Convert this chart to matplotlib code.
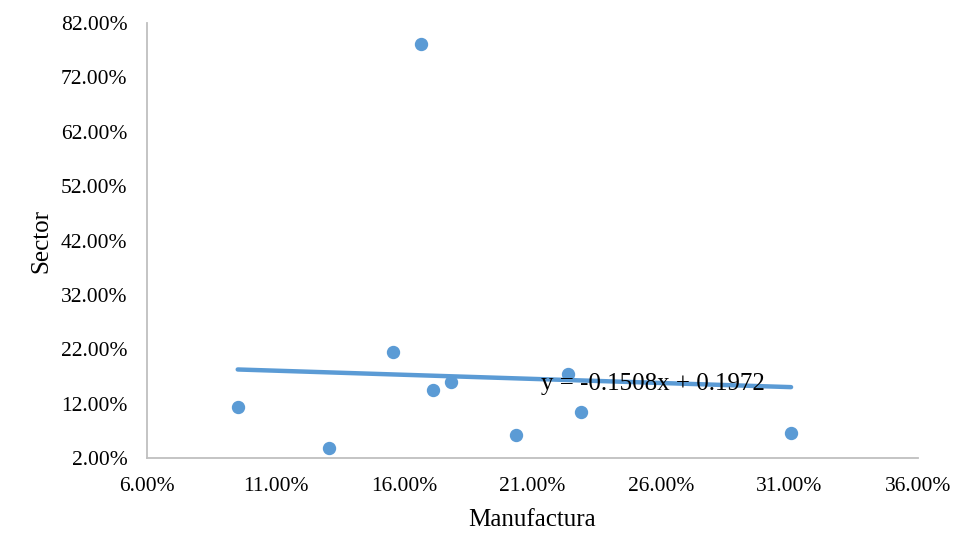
import numpy as np
import matplotlib.pyplot as plt
from matplotlib.ticker import FuncFormatter

# data (fractions)
manufactura = [0.0953, 0.1307, 0.1556, 0.1666, 0.1713, 0.1783, 0.2036, 0.2238, 0.2289, 0.3106]
sector = [0.1143, 0.0389, 0.2149, 0.7810, 0.1450, 0.1592, 0.0623, 0.1739, 0.1051, 0.0665]
slope = -0.1508
intercept = 0.1972

plt.rcParams['font.family'] = ['Liberation Serif', 'DejaVu Serif']

fig = plt.figure(figsize=(9.76, 5.57), dpi=100)
ax = fig.add_axes([0.1506, 0.1777, 0.79, 0.781])

blue = '#5B9BD5'
ax.plot(manufactura, sector, 'o', color=blue, markersize=8.6, zorder=3)

xt = np.array([min(manufactura), max(manufactura)])
ax.plot(xt, slope * xt + intercept, color=blue, lw=3.2, solid_capstyle='round', zorder=2)
ax.text(0.2133, 0.157, 'y = -0.1508x + 0.1972', fontsize=18, ha='left', va='center', zorder=4)

ax.set_xlim(0.06, 0.36)
ax.set_ylim(0.02, 0.82)
ax.set_xticks(np.arange(0.06, 0.3601, 0.05))
ax.set_yticks(np.arange(0.02, 0.8201, 0.10))
pct = FuncFormatter(lambda v, p: f'{v * 100:.2f}%')
ax.xaxis.set_major_formatter(pct)
ax.yaxis.set_major_formatter(pct)
ax.tick_params(length=0, labelsize=15.5)
ax.tick_params(axis='x', pad=14)
ax.tick_params(axis='y', pad=14)

for s in ['top', 'right']:
    ax.spines[s].set_visible(False)
for s in ['left', 'bottom']:
    ax.spines[s].set_color('#BFBFBF')
    ax.spines[s].set_linewidth(1.3)

ax.set_xlabel('Manufactura', fontsize=18, labelpad=9)
ax.set_ylabel('Sector', fontsize=18, labelpad=6)

fig.savefig('out.png', dpi=100)
